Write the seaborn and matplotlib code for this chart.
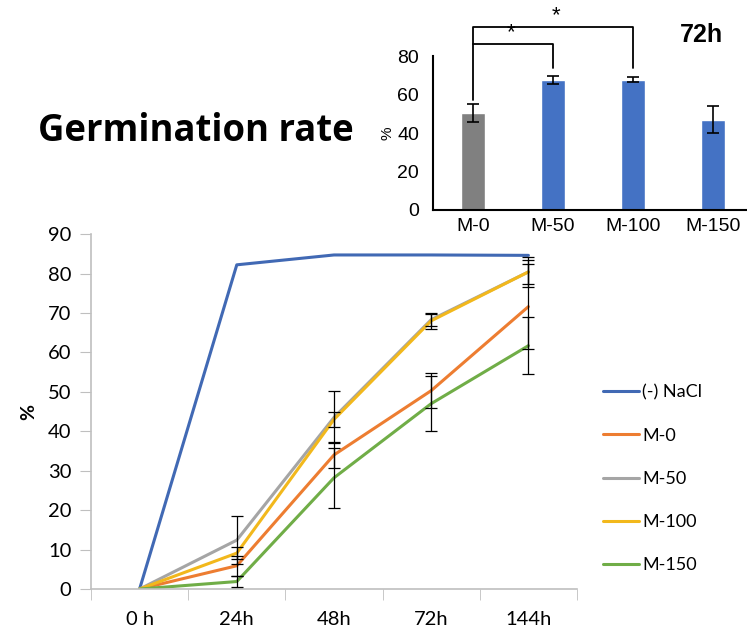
import pandas as pd
import matplotlib
matplotlib.use('Agg')
import matplotlib.pyplot as plt
import seaborn as sns

hours = ['0 h', '24h', '48h', '72h', '144h']
series = ['(-) NaCl', 'M-0', 'M-50', 'M-100', 'M-150']
nacl = [0, 82.2, 84.7, 84.7, 84.6]
m0 = [0, 5.9, 34.0, 50.3, 71.6]
m50 = [0, 12.4, 43.5, 68.3, 80.4]
m100 = [0, 9.1, 43.0, 68.0, 80.4]
m150 = [0, 1.9, 28.2, 47.0, 61.7]
err_nacl = [0, 0, 0, 0, 0]
err_m0 = [0, 2.5, 3.2, 4.5, 10.7]
err_m50 = [0, 6.1, 6.6, 1.5, 3.9]
err_m100 = [0, 1.5, 1.8, 2.0, 3.0]
err_m150 = [0, 1.5, 7.6, 7.0, 7.2]

bar_groups = ['M-0', 'M-50', 'M-100', 'M-150']
bar_values = [50.4, 67.4, 67.7, 46.8]
bar_err = [4.6, 2.2, 1.2, 7.0]

colors = ['#4169B4', '#ED7D31', '#A5A5A5', '#F2B81C', '#70AD47']
line_vals = [nacl, m0, m50, m100, m150]
line_errs = [err_nacl, err_m0, err_m50, err_m100, err_m150]

rows = []
for name, vals, errs in zip(series, line_vals, line_errs):
    for i, h in enumerate(hours):
        rows.append({'hour': h, 'pos': i, 'series': name, 'value': vals[i], 'err': errs[i]})
df = pd.DataFrame(rows)

sns.set_style('white')
plt.rcParams['font.family'] = ['Lato', 'DejaVu Sans']
plt.rcParams['text.color'] = 'black'
plt.rcParams['xtick.color'] = 'black'
plt.rcParams['ytick.color'] = 'black'
plt.rcParams['axes.labelcolor'] = 'black'

fig = plt.figure(figsize=(7.47, 6.35), dpi=100)
ax = fig.add_axes([0.1218, 0.0724, 0.6506, 0.559])

sns.lineplot(data=df, x='pos', y='value', hue='series', hue_order=series,
             palette=colors, linewidth=2.2, ax=ax, legend=True)

for name in series:
    d = df[df['series'] == name]
    d = d[d['err'] > 0]
    if len(d):
        ax.errorbar(d['pos'], d['value'], yerr=d['err'], fmt='none',
                    ecolor='black', elinewidth=0.9, capsize=4, capthick=0.9, zorder=5)

ax.set_xlim(-0.5, 4.5)
ax.set_ylim(0, 90)
ax.set_yticks(range(0, 91, 10))
ax.set_xticks(range(len(hours)))
ax.set_xticklabels(hours)
ax.set_xticks([x - 0.5 for x in range(len(hours) + 1)], minor=True)
ax.tick_params(axis='x', which='major', length=0, pad=16, labelsize=14.5)
ax.tick_params(axis='x', which='minor', length=8, color='#BFBFBF', direction='out', bottom=True)
ax.tick_params(axis='y', length=8, color='#BFBFBF', direction='out', left=True, labelsize=14.5, pad=6)
for s in ['top', 'right']:
    ax.spines[s].set_visible(False)
for s in ['left', 'bottom']:
    ax.spines[s].set_color('#BFBFBF')
    ax.spines[s].set_linewidth(1.2)
ax.set_xlabel('')
ax.set_ylabel('%', fontsize=14, fontweight='bold', labelpad=8)

ax.legend(loc='upper left', bbox_to_anchor=(0.785, 0.42), bbox_transform=fig.transFigure,
          frameon=False, fontsize=13, handlelength=2.0, handletextpad=0.2,
          labelspacing=1.5)

fig.text(0.051, 0.794, 'Germination rate', fontsize=26.3, fontweight='bold',
         family=['Open Sans', 'DejaVu Sans'], va='center', ha='left')

# inset bar chart at 72h
ax2 = fig.add_axes([0.5797, 0.6693, 320 / 747, 0.2425])
bdf = pd.DataFrame({'group': bar_groups, 'value': bar_values, 'err': bar_err})
sns.barplot(data=bdf, x='group', y='value', hue='group', palette=['#808080', '#4472C4', '#4472C4', '#4472C4'],
            width=0.31, saturation=1, ax=ax2, legend=False)
ax2.errorbar(range(len(bar_groups)), bar_values, yerr=bar_err, fmt='none', ecolor='black',
             elinewidth=1.2, capsize=4, capthick=1.2)
ax2.set_xlim(-0.5, 3.5)
ax2.set_ylim(0, 80)
ax2.set_yticks(range(0, 81, 20))
ax2.tick_params(length=0, labelsize=14)
ax2.tick_params(axis='y', pad=10)
ax2.tick_params(axis='x', pad=6)
for lbl in ax2.get_xticklabels() + ax2.get_yticklabels():
    lbl.set_family(['Liberation Sans', 'DejaVu Sans'])
for s in ['top', 'right']:
    ax2.spines[s].set_visible(False)
for s in ['left', 'bottom']:
    ax2.spines[s].set_color('black')
    ax2.spines[s].set_linewidth(1.5)
ax2.set_xlabel('')
ax2.set_ylabel('%', fontsize=11, family=['Liberation Sans', 'DejaVu Sans'], labelpad=2)
ax2.patch.set_alpha(0)

# significance brackets
ax2.plot([0, 0, 2, 2], [57, 95, 95, 74], color='black', lw=1.3, clip_on=False)
ax2.plot([0, 1, 1], [86, 86, 74], color='black', lw=1.3, clip_on=False)
ax2.text(0.48, 86.5, '*', ha='center', va='bottom', fontsize=16, family=['Liberation Sans', 'DejaVu Sans'])
ax2.text(1.04, 95.5, '*', ha='center', va='bottom', fontsize=16, family=['Liberation Sans', 'DejaVu Sans'])
ax2.text(2.85, 91, '72h', ha='center', va='center', fontsize=18, fontweight='bold',
         family=['Liberation Sans', 'DejaVu Sans'])

fig.savefig('out.png', dpi=100)
